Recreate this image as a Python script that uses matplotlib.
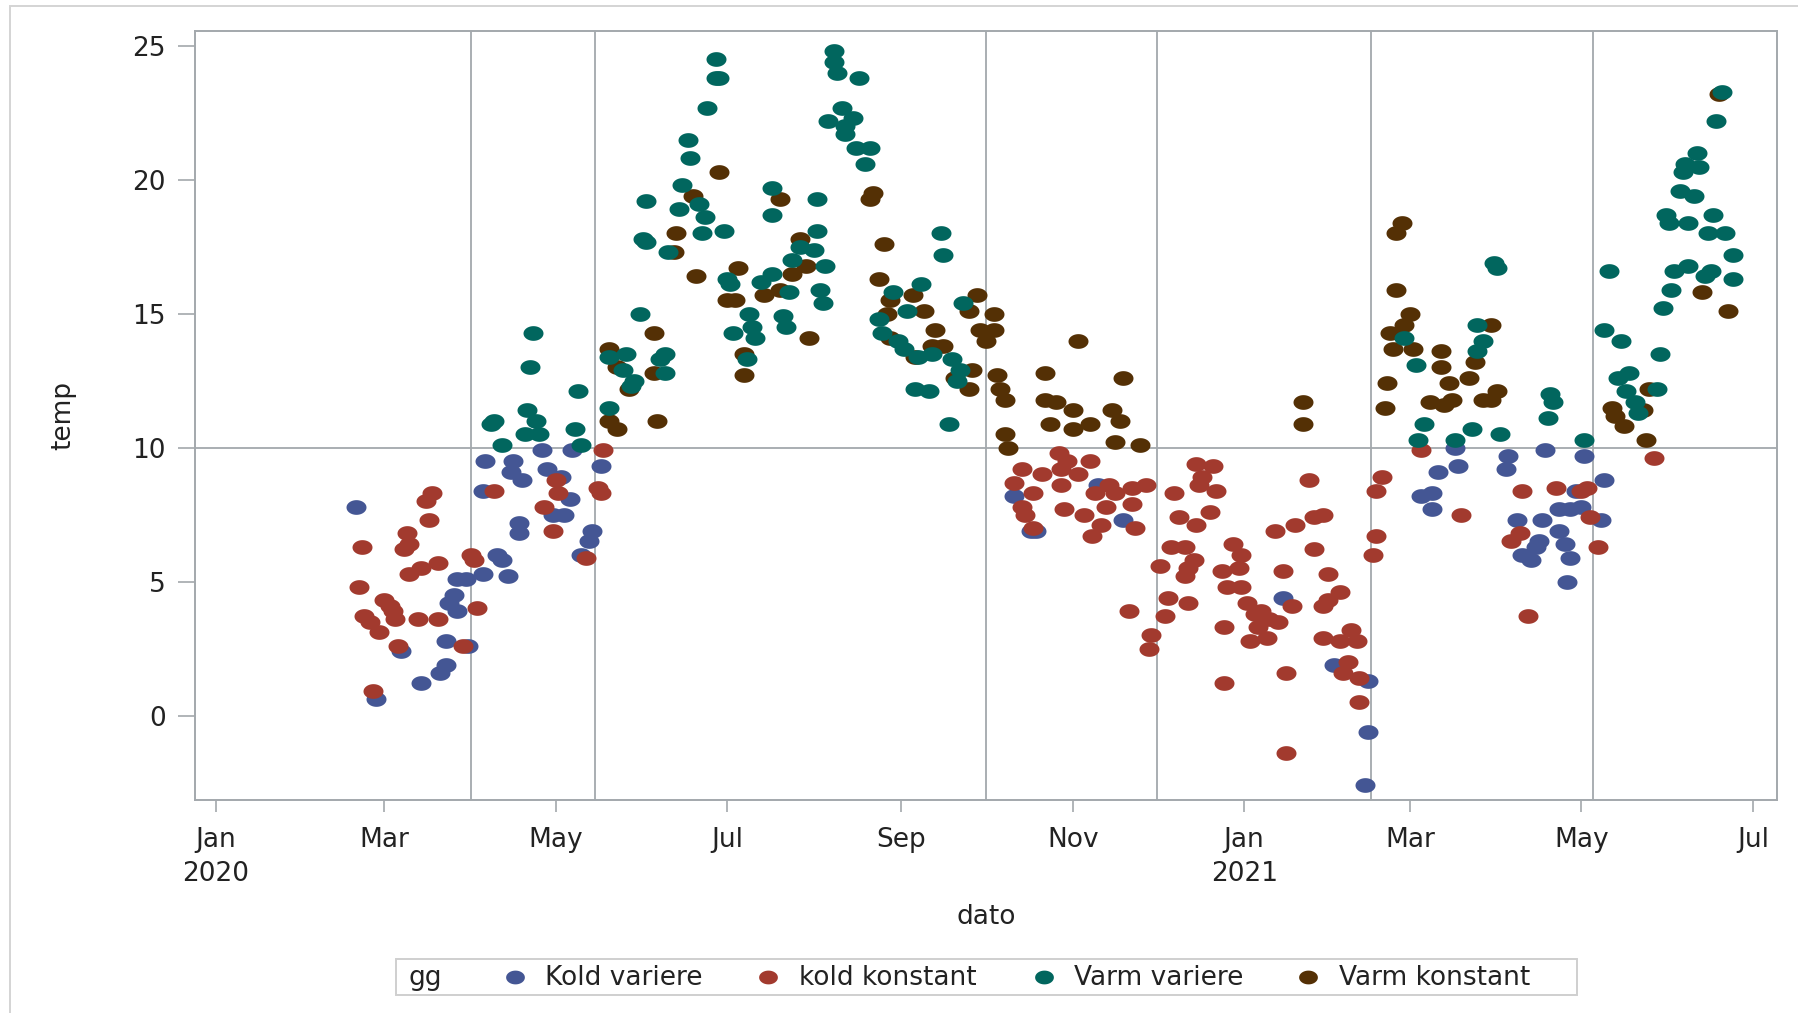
import matplotlib

matplotlib.use("Agg")

import matplotlib.dates as mdates
import matplotlib.pyplot as plt
import numpy as np
import pandas as pd
from matplotlib.patches import Rectangle
from matplotlib.lines import Line2D

# dato is stored as days since 2020-01-01, temp in degrees
kold_variere_day = [50, 57, 66, 73, 80, 82, 82, 83, 85, 86, 86, 89, 90, 95, 95, 96, 100, 102, 104, 105,
                    106, 108, 108, 109, 116, 118, 120, 123, 124, 126, 127, 130, 133, 134, 137, 284, 290,
                    292, 314, 323, 380, 398, 409, 410, 410, 429, 433, 433, 435, 441, 442, 459, 460, 463,
                    465, 468, 470, 471, 472, 473, 478, 478, 480, 481, 482, 482, 484, 486, 487, 493, 494]
kold_variere_temp = [7.8, 0.6, 2.4, 1.2, 1.6, 1.9, 2.8, 4.2, 4.5, 5.1, 3.9, 5.1, 2.6, 5.3, 8.4, 9.5, 6.0,
                     5.8, 5.2, 9.1, 9.5, 7.2, 6.8, 8.8, 9.9, 9.2, 7.5, 8.9, 7.5, 8.1, 9.9, 6.0, 6.5, 6.9,
                     9.3, 8.2, 6.9, 6.9, 8.6, 7.3, 4.4, 1.9, -2.6, -0.6, 1.3, 8.2, 8.3, 7.7, 9.1, 10.0,
                     9.3, 9.2, 9.7, 7.3, 6.0, 5.8, 6.3, 6.5, 7.3, 9.9, 6.9, 7.7, 6.4, 5.0, 7.7, 5.9, 8.4,
                     7.8, 9.7, 7.3, 8.8]

kold_konstant_day = [51, 52, 53, 55, 56, 58, 60, 62, 63, 64, 65, 67, 68, 69, 69, 72, 73, 75, 76, 77, 79,
                     79, 88, 91, 92, 93, 99, 117, 120, 121, 122, 132, 136, 137, 138, 284, 287, 287, 288,
                     291, 291, 294, 300, 301, 301, 302, 303, 307, 309, 311, 312, 313, 315, 317, 318, 320,
                     325, 326, 326, 327, 331, 332, 333, 336, 338, 339, 340, 341, 343, 345, 345, 346, 346,
                     348, 349, 349, 350, 351, 354, 355, 356, 358, 359, 359, 360, 362, 364, 365, 365, 367,
                     368, 370, 371, 372, 374, 375, 377, 378, 380, 381, 381, 383, 384, 389, 391, 391, 394,
                     394, 394, 396, 396, 400, 400, 401, 403, 404, 406, 407, 407, 412, 413, 413, 415, 429,
                     443, 461, 464, 465, 467, 477, 486, 488, 489, 492, 512]
kold_konstant_temp = [4.8, 6.3, 3.7, 3.5, 0.9, 3.1, 4.3, 4.1, 3.9, 3.6, 2.6, 6.2, 6.8, 6.4, 5.3, 3.6, 5.5,
                      8.0, 7.3, 8.3, 5.7, 3.6, 2.6, 6.0, 5.8, 4.0, 8.4, 7.8, 6.9, 8.8, 8.3, 5.9, 8.5, 8.3,
                      9.9, 8.7, 9.2, 7.8, 7.5, 8.3, 7.0, 9.0, 9.8, 9.2, 8.6, 7.7, 9.5, 9.0, 7.5, 9.5, 6.7,
                      8.3, 7.1, 7.8, 8.6, 8.3, 3.9, 8.5, 7.9, 7.0, 8.6, 2.5, 3.0, 5.6, 3.7, 4.4, 6.3, 8.3,
                      7.4, 6.3, 5.2, 4.2, 5.5, 5.8, 7.1, 9.4, 8.6, 8.9, 7.6, 9.3, 8.4, 5.4, 3.3, 1.2, 4.8,
                      6.4, 5.5, 6.0, 4.8, 4.2, 2.8, 3.8, 3.3, 3.9, 2.9, 3.6, 6.9, 3.5, 5.4, 1.6, -1.4, 4.1,
                      7.1, 8.8, 7.4, 6.2, 7.5, 4.1, 2.9, 5.3, 4.3, 4.6, 2.8, 1.6, 2.0, 3.2, 2.8, 1.4, 0.5,
                      6.0, 6.7, 8.4, 8.9, 9.9, 7.5, 6.5, 6.8, 8.4, 3.7, 8.5, 8.4, 8.5, 7.4, 6.3, 9.6]

varm_variere_day = [98, 99, 102, 110, 111, 112, 113, 114, 115, 128, 129, 130, 140, 140, 145, 146, 148, 149,
                    151, 152, 153, 153, 158, 160, 160, 161, 165, 166, 168, 169, 172, 173, 174, 175, 178,
                    178, 179, 181, 182, 183, 184, 189, 190, 191, 192, 194, 198, 198, 198, 202, 203, 204,
                    205, 208, 213, 214, 214, 215, 216, 217, 218, 220, 220, 221, 223, 224, 224, 227, 228,
                    229, 231, 233, 236, 237, 241, 243, 245, 246, 249, 250, 251, 254, 255, 258, 259, 261,
                    262, 264, 265, 266, 423, 427, 428, 430, 441, 447, 449, 449, 451, 455, 456, 457, 474,
                    475, 476, 487, 494, 496, 499, 500, 502, 503, 505, 506, 513, 514, 515, 516, 517, 518,
                    519, 521, 522, 523, 524, 524, 526, 527, 528, 530, 531, 532, 533, 534, 536, 537, 540,
                    540]
varm_variere_temp = [10.9, 11.0, 10.1, 10.5, 11.4, 13.0, 14.3, 11.0, 10.5, 10.7, 12.1, 10.1, 11.5, 13.4,
                     12.9, 13.5, 12.3, 12.5, 15.0, 17.8, 17.7, 19.2, 13.3, 12.8, 13.5, 17.3, 18.9, 19.8,
                     21.5, 20.8, 19.1, 18.0, 18.6, 22.7, 24.5, 23.8, 23.8, 18.1, 16.3, 16.1, 14.3, 13.3,
                     15.0, 14.5, 14.1, 16.2, 16.5, 19.7, 18.7, 14.9, 14.5, 15.8, 17.0, 17.5, 17.4, 19.3,
                     18.1, 15.9, 15.4, 16.8, 22.2, 24.4, 24.8, 24.0, 22.7, 22.0, 21.7, 22.3, 21.2, 23.8,
                     20.6, 21.2, 14.8, 14.3, 15.8, 14.0, 13.7, 15.1, 12.2, 13.4, 16.1, 12.1, 13.5, 18.0,
                     17.2, 10.9, 13.3, 12.5, 12.9, 15.4, 14.1, 13.1, 10.3, 10.9, 10.3, 10.7, 14.6, 13.6,
                     14.0, 16.9, 16.7, 10.5, 11.1, 12.0, 11.7, 10.3, 14.4, 16.6, 12.6, 14.0, 12.1, 12.8,
                     11.7, 11.3, 12.2, 13.5, 15.2, 18.7, 18.4, 15.9, 16.6, 19.6, 20.3, 20.6, 18.4, 16.8,
                     19.4, 21.0, 20.5, 16.4, 18.0, 16.6, 18.7, 22.2, 23.3, 18.0, 17.2, 16.3]

varm_konstant_day = [140, 140, 143, 143, 147, 156, 156, 157, 163, 164, 170, 171, 179, 182, 185, 186, 188,
                     188, 195, 201, 201, 205, 208, 210, 211, 233, 234, 236, 238, 239, 240, 240, 248, 249,
                     252, 255, 256, 259, 263, 268, 268, 269, 271, 272, 274, 277, 277, 278, 279, 281, 281,
                     282, 295, 295, 297, 299, 305, 305, 307, 311, 319, 320, 322, 323, 329, 387, 387, 416,
                     417, 418, 419, 420, 420, 422, 423, 425, 426, 432, 436, 436, 437, 439, 440, 446, 448,
                     451, 454, 454, 456, 497, 498, 501, 508, 509, 510, 529, 535, 538]
varm_konstant_temp = [13.7, 11.0, 13.0, 10.7, 12.2, 14.3, 12.8, 11.0, 17.3, 18.0, 19.4, 16.4, 20.3, 15.5,
                      15.5, 16.7, 13.5, 12.7, 15.7, 15.9, 19.3, 16.5, 17.8, 16.8, 14.1, 19.3, 19.5, 16.3,
                      17.6, 15.0, 15.5, 14.1, 15.7, 13.4, 15.1, 13.8, 14.4, 13.8, 12.6, 12.2, 15.1, 12.9,
                      15.7, 14.4, 14.0, 15.0, 14.4, 12.7, 12.2, 11.8, 10.5, 10.0, 12.8, 11.8, 10.9, 11.7,
                      11.4, 10.7, 14.0, 10.9, 11.4, 10.2, 11.0, 12.6, 10.1, 11.7, 10.9, 11.5, 12.4, 14.3,
                      13.7, 15.9, 18.0, 18.4, 14.6, 15.0, 13.7, 11.7, 13.6, 13.0, 11.6, 12.4, 11.8, 12.6,
                      13.2, 11.8, 14.6, 11.8, 12.1, 11.5, 11.2, 10.8, 11.4, 10.3, 12.2, 15.8, 23.2, 15.1]

group_names = ["Kold variere", "kold konstant", "Varm variere", "Varm konstant"]
group_colors = ["#445694", "#A23A2E", "#01665E", "#543005"]

ref_dates = ["2020-04-01", "2020-05-15", "2020-10-01", "2020-12-01", "2021-02-15", "2021-05-05"]
ref_temp = 10
tick_dates = pd.date_range("2020-01-01", "2021-07-01", freq="2MS")
tick_labels = ["Jan\n2020", "Mar", "May", "Jul", "Sep", "Nov", "Jan\n2021", "Mar", "May", "Jul"]
y_ticks = [0, 5, 10, 15, 20, 25]

START = pd.Timestamp("2020-01-01")
GRAY = "#A3A8AC"
TEXT = "#222222"
FS = 19

# SAS output is horizontally stretched, so markers are drawn as flat ellipses
theta = np.linspace(0, 2 * np.pi, 64)
ELLIPSE = np.column_stack([1.36 * np.cos(theta), np.sin(theta)])


def to_num(days):
    return mdates.date2num(START) + np.asarray(days, dtype=float)


fig = plt.figure(figsize=(17.98, 10.13), dpi=100)
ax = fig.add_axes([0.10845, 0.20987, 0.87987, 0.7595])

for d in ref_dates:
    ax.axvline(mdates.date2num(pd.Timestamp(d)), color=GRAY, linewidth=1.3, zorder=1)
ax.axhline(ref_temp, color=GRAY, linewidth=1.3, zorder=1)

groups = [
    (kold_variere_day, kold_variere_temp),
    (kold_konstant_day, kold_konstant_temp),
    (varm_konstant_day, varm_konstant_temp),
    (varm_variere_day, varm_variere_temp),
]
order = [0, 1, 3, 2]
for (days, temps), idx in zip(groups, order):
    ax.scatter(to_num(days), temps, marker=ELLIPSE, s=14.4 ** 2, color=group_colors[idx],
               linewidths=0, zorder=3)

x0 = mdates.date2num(START)
ax.set_xlim(x0 - 7.3, x0 + 555.6)
ax.set_ylim(-3.17, 25.56)

ax.set_xticks(mdates.date2num(tick_dates))
ax.set_xticklabels(tick_labels, fontsize=FS, color=TEXT, linespacing=1.4)
ax.set_yticks(y_ticks)
ax.set_yticklabels([str(v) for v in y_ticks], fontsize=FS, color=TEXT)
ax.tick_params(axis="x", direction="out", length=8.8, width=1.2, color=GRAY, pad=10)
ax.tick_params(axis="y", direction="out", length=12, width=1.2, color=GRAY, pad=9)
for spine in ax.spines.values():
    spine.set_color(GRAY)
    spine.set_linewidth(1.4)

ax.set_xlabel("dato", fontsize=FS, color=TEXT, va="center")
ax.xaxis.set_label_coords(0.5, -0.151)
ax.set_ylabel("temp", fontsize=FS, color=TEXT, va="center")
ax.yaxis.set_label_coords(-0.0834, 0.5)

# outer border of the SAS output
W, H = 1798, 1013
fig.add_artist(Rectangle((10 / W, -0.1), 1.2, 1.1 - 6 / H, transform=fig.transFigure,
                         fill=False, edgecolor="#D4D4D4", linewidth=1.4))

# legend drawn as a single row with the group title in front
fig.add_artist(Rectangle((396 / W, 1 - 995 / H), 1181 / W, 36 / H, transform=fig.transFigure,
                         fill=False, edgecolor="#CFCFCF", linewidth=1.4))
base_y = 1 - 985 / H
mark_y = 1 - 977 / H
fig.text(409 / W, base_y, "gg", fontsize=FS, color=TEXT, va="baseline")
marker_x = [515, 768, 1044, 1308]
label_x = [545, 799, 1074, 1339]
for name, color, mx, lx in zip(group_names, group_colors, marker_x, label_x):
    fig.add_artist(Line2D([mx / W], [mark_y], marker=ELLIPSE, markersize=13.5, color=color,
                          markeredgewidth=0, linestyle="none", transform=fig.transFigure))
    fig.text(lx / W, base_y, name, fontsize=FS, color=TEXT, va="baseline")

fig.savefig("out.png", dpi=100)
